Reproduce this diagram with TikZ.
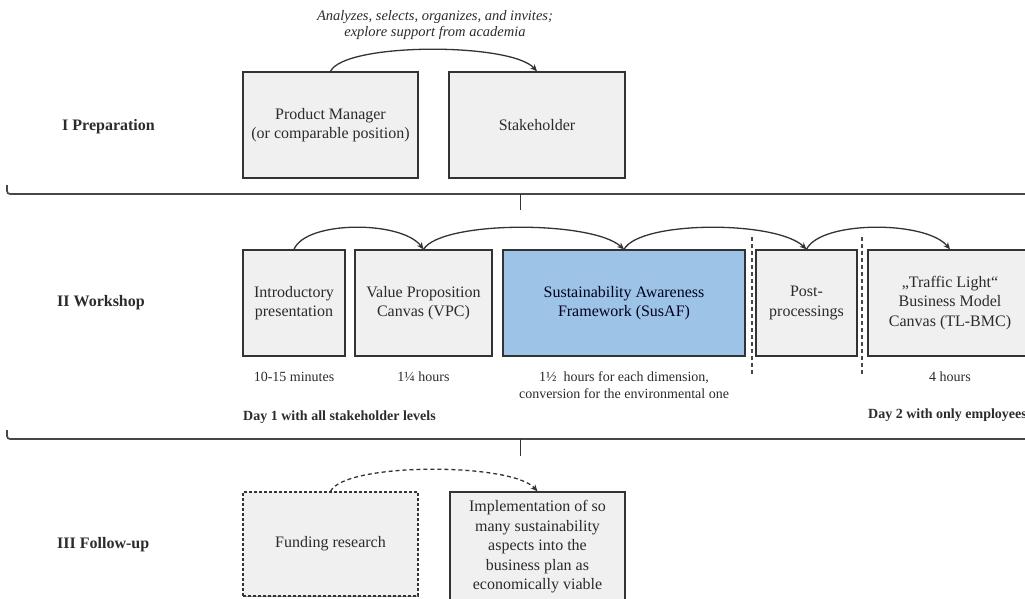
\documentclass[tikz,border=0pt]{standalone}
\usepackage{fontspec}
\setmainfont{Liberation Serif}
\usetikzlibrary{arrows.meta,shadows}
\definecolor{boxfill}{HTML}{F0F0F0}
\definecolor{boxline}{HTML}{333333}
\definecolor{susblue}{HTML}{9DC3E6}
\definecolor{inktext}{HTML}{2B2B2B}
\tikzset{
  box/.style={draw=boxline, fill=boxfill, line width=1.3pt, inner sep=0pt,
    minimum height=106pt, align=center, text=inktext,
    font=\fontsize{16}{19.5}\selectfont,
    drop shadow={shadow xshift=0pt, shadow yshift=-1.3pt, opacity=0.55, fill=black!70}},
  dashbox/.style={box, dash pattern=on 3pt off 2pt},
  phase/.style={anchor=west, font=\bfseries\fontsize{16}{19}\selectfont, text=inktext, inner sep=0pt},
  duration/.style={align=center, font=\fontsize{14}{16.5}\selectfont, text=inktext, inner sep=0pt},
  daynote/.style={font=\bfseries\fontsize{14}{16}\selectfont, text=inktext, inner sep=0pt},
  flow/.style={draw=boxline, line width=1.3pt, -{Stealth[length=7pt,width=6pt]}},
  bracket/.style={draw=boxline!90, line width=1.7pt, rounded corners=3pt},
  tick/.style={draw=boxline, line width=0.9pt},
  daysep/.style={draw=boxline!90, line width=1.4pt, dash pattern=on 4pt off 3pt}
}
\begin{document}
\begin{tikzpicture}[x=1pt, y=-1pt]
\useasboundingbox (0,0) rectangle (1025,598);

% ---- I Preparation ----
\node[phase] (lprep) at (62,127) {I Preparation};
\node[box, minimum width=175pt] (pm) at (330.5,125) {Product Manager\\(or comparable position)};
\node[box, minimum width=176pt] (sh) at (537,125) {Stakeholder};
\node[align=center, inner sep=0pt, text=inktext, font=\itshape\fontsize{14.5}{16.5}\selectfont] (prepnote) at (435,25)
  {Analyzes, selects, organizes, and invites;\\explore support from academia};
\draw[flow] (pm.north) .. controls +(14,-29) and +(-26,-29) .. (sh.north);

\draw[bracket] (7,185) -- (7,194) -- (1030,194);
\coordinate (t1a) at (520,194);
\coordinate (t1b) at (520,210);
\draw[tick] (t1a) -- (t1b);

% ---- II Workshop ----
\node[phase] (lwork) at (57,303) {II Workshop};
\node[box, minimum width=102pt] (intro) at (294,303) {Introductory\\presentation};
\node[box, minimum width=137pt] (vpc) at (423.5,303) {Value Proposition\\Canvas (VPC)};
\node[box, minimum width=242pt, fill=susblue, text=black!80!blue!60!black] (susaf) at (624,303) {Sustainability Awareness\\Framework (SusAF)};
\node[box, minimum width=101pt] (post) at (806.5,303) {Post-\\processings};
\node[box, minimum width=164pt] (tl) at (950,303) {„Traffic Light“\\Business Model\\Canvas (TL-BMC)};

\draw[flow] (intro.north) .. controls +(12,-29) and +(-22,-29) .. (vpc.north);
\draw[flow] (vpc.north) .. controls +(18,-29) and +(-32,-29) .. (susaf.north);
\draw[flow] (susaf.north) .. controls +(16,-29) and +(-30,-29) .. (post.north);
\draw[flow] (post.north) .. controls +(14,-29) and +(-24,-29) .. (tl.north);

\coordinate (s1a) at (752,237);
\coordinate (s1b) at (752,375);
\coordinate (s2a) at (862,237);
\coordinate (s2b) at (862,375);
\draw[daysep] (s1a) -- (s1b);
\draw[daysep] (s2a) -- (s2b);

\node[duration] (dintro) at (294,377) {10-15 minutes};
\node[duration] (dvpc) at (423.5,377) {1¼ hours};
\node[duration] (dsus) at (624,385) {1½\ \ hours for each dimension,\\conversion for the environmental one};
\node[duration] (dtl) at (950,377) {4 hours};
\node[daynote, anchor=west] (day1) at (243,417) {Day 1 with all stakeholder levels};
\node[daynote, anchor=east] (day2) at (1027,415) {Day 2 with only employees};

\draw[bracket] (7,430) -- (7,439) -- (1030,439);
\coordinate (t2a) at (520,439);
\coordinate (t2b) at (520,456);
\draw[tick] (t2a) -- (t2b);

% ---- III Follow-up ----
\node[phase] (lfollow) at (57,545) {III Follow-up};
\node[dashbox, minimum width=175pt, minimum height=104pt] (fund) at (330.5,544) {Funding research};
\node[box, minimum width=175pt, minimum height=110pt] (impl) at (537.5,547) {Implementation of so\\many sustainability\\aspects into the\\business plan as\\economically viable};
\draw[flow, dash pattern=on 4pt off 3pt] (fund.north) .. controls +(14,-29) and +(-26,-29) .. (impl.north);
\end{tikzpicture}
\end{document}
